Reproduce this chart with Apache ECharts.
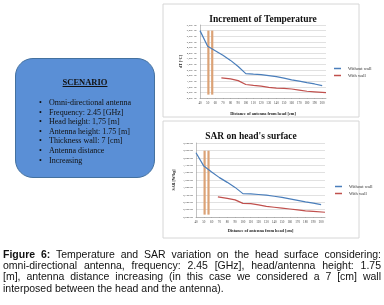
<!DOCTYPE html>
<html>
<head>
    <meta charset="utf-8" />
    <title>Figure 6</title>
    <script src="https://cdn.jsdelivr.net/npm/echarts@6.0.0/dist/echarts.min.js"></script>
    <style type="text/css">
        * { margin: 0; padding: 0; box-sizing: border-box; }
        html, body { width: 384px; height: 305px; background: #fff; overflow: hidden; }
        #chart { position: absolute; left: 0; top: 0; width: 384px; height: 250px; }
        /*scenario box*/
        .scenario {
            position: absolute; left: 15px; top: 58px; width: 140px; height: 120px;
            background: #5a8fd6; border: 1px solid #44719f; border-radius: 18px;
            font-family: "Liberation Serif", serif; font-size: 8px; color: #111;
        }
        .scenario h3 {
            position: absolute; left: 0; top: 18px; width: 100%; text-align: center;
            font-size: 8.5px; font-weight: bold; text-decoration: underline;
        }
        .scenario ul { position: absolute; left: 33px; top: 39px; list-style: none; }
        .scenario li { position: relative; line-height: 9.6px; padding-left: 0; }
        .scenario li:before { content: "\2022"; position: absolute; left: -10px; }
        /*caption*/
        .caption {
            position: absolute; left: 3px; top: 249px; width: 378px;
            font-family: "Liberation Sans", Arial, sans-serif; font-size: 10.5px; line-height: 11.2px; color: #111;
        }
        .caption div { text-align: justify; text-align-last: justify; white-space: nowrap; }
        .caption div.last { text-align-last: left; }
    </style>
</head>
<body>
    <div id="chart"></div>

    <div class="scenario">
        <h3>SCENARIO</h3>
        <ul>
            <li>Omni-directional antenna</li>
            <li>Frequency: 2.45 [GHz]</li>
            <li>Head height: 1,75 [m]</li>
            <li>Antenna height: 1.75 [m]</li>
            <li>Thickness wall: 7 [cm]</li>
            <li>Antenna distance</li>
            <li style="margin-left:0">Increasing</li>
        </ul>
    </div>

    <div class="caption">
        <div><b>Figure 6:</b> Temperature and SAR variation on the head surface considering:</div>
        <div>omni-directional antenna, frequency: 2.45 [GHz], head/antenna height: 1.75</div>
        <div>[m], antenna distance increasing (in this case we considered a 7 [cm] wall</div>
        <div class="last">interposed between the head and the antenna).</div>
    </div>

<script type="text/javascript">
    // distances (cm)
    var distNoWall = [40, 50, 60, 70, 80, 90, 100, 110, 120, 130, 140, 150, 160, 170, 180, 190, 200];
    var distWall = [68, 80, 90, 100, 110, 120, 130, 140, 150, 160, 170, 180, 190, 205];

    // increment of temperature
    var tempNoWall = [6.0, 4.6, 4.2, 3.8, 3.35, 2.8, 2.17, 2.12, 2.08, 2.0, 1.9, 1.77, 1.62, 1.5, 1.37, 1.25, 1.1];
    var tempWall = [1.8, 1.7, 1.55, 1.2, 1.12, 1.05, 0.95, 0.88, 0.85, 0.8, 0.7, 0.6, 0.55, 0.47];

    // SAR on head's surface
    var sarNoWall = [2.17, 1.72, 1.52, 1.33, 1.17, 1.0, 0.79, 0.78, 0.76, 0.74, 0.7, 0.66, 0.61, 0.56, 0.51, 0.47, 0.42];
    var sarWall = [0.68, 0.63, 0.58, 0.46, 0.45, 0.41, 0.36, 0.33, 0.30, 0.27, 0.24, 0.21, 0.19, 0.16];

    // orange marker lines
    var markX = [51, 56];
    var markTemp = [0.3, 6.0];
    var markSar = [0.08, 2.24];

    function pairs(xs, ys) {
        var out = [];
        for (var i = 0; i < xs.length; i++) out.push([xs[i], ys[i]]);
        return out;
    }

    var blue = '#4a7ebb', red = '#c0504d', orange = '#dba276', grid = '#d4d4d4';
    var serif = 'Liberation Serif';

    function xAxisFor(idx) {
        return {
            type: 'value', gridIndex: idx, min: 40, max: 205, interval: 10,
            name: 'Distance of antenna from head [cm]', nameLocation: 'middle', nameGap: idx == 0 ? 14 : 12,
            nameTextStyle: { fontFamily: serif, fontSize: 4.3, fontWeight: 'bold', color: '#222' },
            axisLine: { lineStyle: { color: '#999', width: 0.6 } },
            axisTick: { show: true, length: 1, lineStyle: { color: '#999', width: 0.5 } },
            axisLabel: { fontSize: 3.2, color: '#444', margin: 4, showMaxLabel: false, fontFamily: serif },
            splitLine: { show: false }
        };
    }

    function yAxisFor(idx, max, step, name, gap, fmt) {
        return {
            type: 'value', gridIndex: idx, min: 0, max: max, interval: step,
            name: name, nameLocation: 'middle', nameGap: gap,
            nameTextStyle: { fontFamily: serif, fontSize: 4, fontWeight: 'bold', color: '#222' },
            axisLine: { show: true, lineStyle: { color: '#999', width: 0.6 } },
            axisTick: { show: false },
            axisLabel: { fontSize: 2.8, color: '#444', margin: 3, formatter: fmt, fontFamily: serif },
            splitLine: { lineStyle: { color: grid, width: 0.7 } }
        };
    }

    function lineSeries(name, idx, data, color) {
        return {
            name: name, type: 'line', xAxisIndex: idx, yAxisIndex: idx, data: data,
            showSymbol: false, lineStyle: { color: color, width: 1.2 }, itemStyle: { color: color },
            animation: false
        };
    }

    function markSeries(idx, x, ys) {
        return {
            type: 'line', xAxisIndex: idx, yAxisIndex: idx, data: [[x, ys[0]], [x, ys[1]]],
            showSymbol: false, lineStyle: { color: orange, width: 2.2 }, animation: false, z: 1
        };
    }

    var option = {
        backgroundColor: 'transparent',
        animation: false,
        title: [
            { text: 'Increment of Temperature', left: 258, top: 10, textAlign: 'center',
              textStyle: { fontFamily: serif, fontSize: 9.5, fontWeight: 'bold', color: '#111' } },
            { text: "SAR on head's surface", left: 246, top: 127, textAlign: 'center',
              textStyle: { fontFamily: serif, fontSize: 9.5, fontWeight: 'bold', color: '#111' } }
        ],
        legend: [
            { orient: 'vertical', left: 329, top: 61, itemWidth: 7, itemHeight: 1.5, itemGap: 2, icon: 'rect',
              data: ['Without wall', 'With wall'], textStyle: { fontFamily: serif, fontSize: 4.5, color: '#333', padding: [0, 0, 0, 2] } },
            { orient: 'vertical', left: 330, top: 179, itemWidth: 7, itemHeight: 1.5, itemGap: 2, icon: 'rect',
              data: ['Without wall', 'With wall'], textStyle: { fontFamily: serif, fontSize: 4.5, color: '#333', padding: [0, 0, 0, 2] } }
        ],
        grid: [
            { left: 200, right: 58, top: 25, height: 73 },
            { left: 196, right: 59, top: 143, height: 74 }
        ],
        xAxis: [xAxisFor(0), xAxisFor(1)],
        yAxis: [
            yAxisFor(0, 6.5, 0.5, 'dT [°C]', 15, function (v) { return v.toFixed(2).replace('.', ',') + 'E-06'; }),
            yAxisFor(1, 2.5, 0.25, 'SAR [W/kg]', 20, function (v) { return v.toFixed(3).replace('.', ',') + '.00'; })
        ],
        graphic: [
            { type: 'rect', shape: { x: 163, y: 4, width: 196, height: 113 }, style: { fill: 'none', stroke: '#d6d6d6', lineWidth: 1 }, z: -1 },
            { type: 'rect', shape: { x: 163, y: 121, width: 196, height: 117 }, style: { fill: 'none', stroke: '#d6d6d6', lineWidth: 1 }, z: -1 }
        ],
        series: [
            markSeries(0, markX[0], markTemp),
            markSeries(0, markX[1], markTemp),
            lineSeries('Without wall', 0, pairs(distNoWall, tempNoWall), blue),
            lineSeries('With wall', 0, pairs(distWall, tempWall), red),
            markSeries(1, markX[0], markSar),
            markSeries(1, markX[1], markSar),
            lineSeries('Without wall', 1, pairs(distNoWall, sarNoWall), blue),
            lineSeries('With wall', 1, pairs(distWall, sarWall), red)
        ]
    };

    var myChart = echarts.init(document.getElementById('chart'), null, { renderer: 'canvas' });
    myChart.setOption(option);
</script>
</body>
</html>
